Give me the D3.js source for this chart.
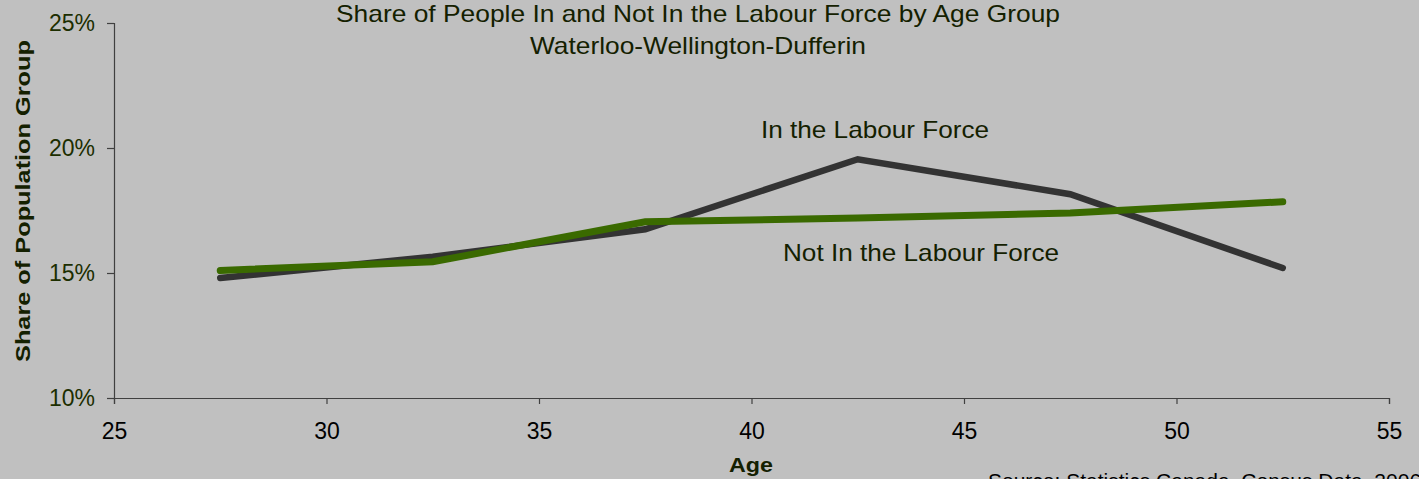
<!DOCTYPE html>
<html><head><meta charset="utf-8">
<script src="https://cdn.jsdelivr.net/npm/d3@7"></script>
<style>body{margin:0;background:#c0c0c0;}svg{display:block;}text{font-family:"Liberation Sans",Arial,sans-serif;}</style>
</head><body>
<svg id="c" width="1419" height="479"></svg>
<script>
const ages = [27.5, 32.5, 37.5, 42.5, 47.5, 52.5];
const inLabourForce = [14.8, 15.65, 16.75, 19.55, 18.15, 15.2];
const notInLabourForce = [15.1, 15.45, 17.05, 17.2, 17.4, 17.85];
const xTicks = [25, 30, 35, 40, 45, 50, 55];
const yTicks = [10, 15, 20, 25];

const svg = d3.select("#c");
svg.append("rect").attr("width",1419).attr("height",479).attr("fill","#c0c0c0");
const x = d3.scaleLinear().domain([25,55]).range([114,1389]);
const y = d3.scaleLinear().domain([10,25]).range([398,23]);
const txt = "#142000";

const yAxis = svg.append("g").attr("transform","translate(114,0)")
  .call(d3.axisLeft(y).tickValues(yTicks).tickSize(7).tickPadding(12).tickFormat(d=>d+"%"));
const xAxis = svg.append("g").attr("transform","translate(0,398)")
  .call(d3.axisBottom(x).tickValues(xTicks).tickSize(6).tickPadding(19).tickFormat(d3.format("d")));
[yAxis,xAxis].forEach(g=>{
  g.select(".domain").attr("stroke","#404040").attr("stroke-width",1.2);
  g.selectAll(".tick line").attr("stroke","#404040").attr("stroke-width",1.2);
  g.selectAll("text").attr("font-size",23).attr("font-family","Liberation Sans, Arial, sans-serif");
});
yAxis.selectAll("text").attr("fill","#1c2e00");
xAxis.selectAll("text").attr("fill","#000");

const line = d3.line().x((d,i)=>x(ages[i])).y(d=>y(d));
svg.append("path").datum(inLabourForce).attr("d",line).attr("fill","none")
  .attr("stroke","#333333").attr("stroke-width",6.5).attr("stroke-linecap","round").attr("stroke-linejoin","miter");
svg.append("path").datum(notInLabourForce).attr("d",line).attr("fill","none")
  .attr("stroke","#3a6a00").attr("stroke-width",7).attr("stroke-linecap","round").attr("stroke-linejoin","miter");

function label(xp, yp, size, len, s, opts={}) {
  const t = svg.append("text").attr("x",xp).attr("y",yp).attr("text-anchor","middle")
    .attr("font-size",size).attr("fill",opts.fill||txt)
    .attr("textLength",len).attr("lengthAdjust","spacingAndGlyphs").text(s);
  if (opts.bold) t.attr("font-weight","bold");
  if (opts.transform) t.attr("transform",opts.transform);
  return t;
}
label(698, 22, 24, 724, "Share of People In and Not In the Labour Force by Age Group");
label(698, 54, 24, 336, "Waterloo-Wellington-Dufferin");
label(875, 138, 24, 228, "In the Labour Force");
label(921, 261, 24, 276, "Not In the Labour Force");
label(751, 472, 21, 44, "Age", {bold:true});
label(0, 0, 21, 322, "Share of Population Group", {bold:true, transform:"translate(30,201) rotate(-90)"});
svg.append("text").attr("x",988).attr("y",488).attr("font-size",21).attr("fill","#000")
  .text("Source: Statistics Canada, Census Data, 2006");
</script>
</body></html>
